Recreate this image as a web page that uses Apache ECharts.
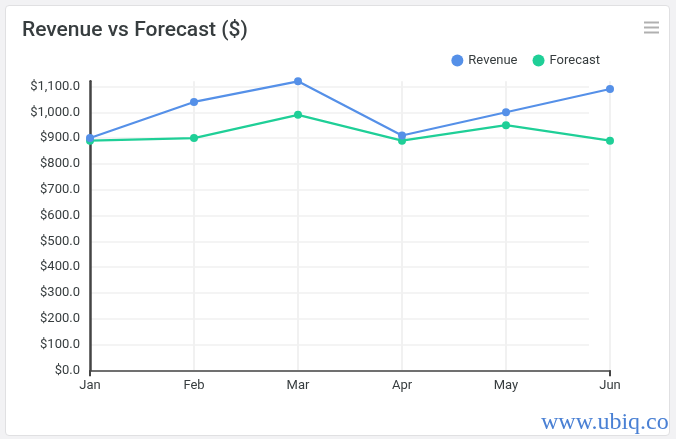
<!DOCTYPE html>
<html><head><meta charset="utf-8">
<script src="https://cdn.jsdelivr.net/npm/echarts@6/dist/echarts.min.js"></script>
<style>
html,body{margin:0;padding:0;background:#f2f2f4;}
#card{position:absolute;left:5px;top:5px;width:663px;height:429px;background:#fff;border:1px solid #e0e0e2;border-radius:4px;}
#chart{position:absolute;left:0;top:0;width:676px;height:439px;}
</style></head>
<body>
<div id="card"></div>
<div id="chart"></div>
<script>
const categories = ['Jan','Feb','Mar','Apr','May','Jun'];
const revenue = [900, 1040, 1120, 910, 1000, 1090];
const forecast = [890, 900, 990, 890, 950, 890];
const yTicks = [0, 100, 200, 300, 400, 500, 600, 700, 800, 900, 1000, 1100];
const yMaxShown = 1120;

const chart = echarts.init(document.getElementById('chart'), null, {renderer:'canvas'});
const fmt = v => '$' + v.toLocaleString('en-US', {minimumFractionDigits:1, maximumFractionDigits:1});
const labelColor = '#373d3f';
chart.setOption({
  animation:false,
  textStyle:{fontFamily:'Roboto'},
  title:{text:'Revenue vs Forecast ($)', left:17, top:15,
    textStyle:{fontFamily:'Roboto', fontSize:21, fontWeight:500, color:'#373d3f'}},
  legend:{data:['Revenue','Forecast'], right:71, top:49, icon:'circle', itemWidth:12, itemHeight:12, itemGap:15,
    textStyle:{fontFamily:'Roboto', fontSize:13, color:labelColor}},
  grid:[
    {left:90, right:66, top:81.3, bottom:68.7},
    {left:90, width:499, top:86.5, bottom:68.7}
  ],
  xAxis:[
    {type:'category', data:categories, boundaryGap:false, gridIndex:0,
      axisLine:{lineStyle:{color:'#444', width:1.5}},
      axisTick:{show:true, length:6, interval:(i)=> i===0 || i===categories.length-1, lineStyle:{color:'#444', width:2}},
      axisLabel:{color:labelColor, fontSize:13, margin:9, fontFamily:'Roboto'},
      splitLine:{show:true, lineStyle:{color:'#f1f1f1', width:2}}},
    {type:'category', data:categories, boundaryGap:false, gridIndex:1, show:false}
  ],
  yAxis:[
    {type:'value', gridIndex:0, min:yTicks[0], max:yMaxShown, interval:yTicks[1]-yTicks[0],
      axisLine:{show:true, lineStyle:{color:'#444', width:2.5}},
      axisTick:{show:false},
      splitLine:{show:false},
      axisLabel:{formatter:fmt, color:labelColor, fontSize:13, margin:10, showMaxLabel:false, fontFamily:'Roboto'}},
    {type:'value', gridIndex:1, min:yTicks[0], max:yTicks[yTicks.length-1], interval:yTicks[1]-yTicks[0],
      axisLine:{show:false}, axisTick:{show:false}, axisLabel:{show:false},
      splitLine:{show:true, lineStyle:{color:'#f1f1f1', width:1.5}}}
  ],
  series:[
    {name:'Revenue', type:'line', data:revenue, xAxisIndex:0, yAxisIndex:0, symbol:'circle', symbolSize:8,
      itemStyle:{color:'#5590e8'}, lineStyle:{width:2.2, color:'#5590e8'}, z:3},
    {name:'Forecast', type:'line', data:forecast, xAxisIndex:0, yAxisIndex:0, symbol:'circle', symbolSize:8,
      itemStyle:{color:'#1fcf97'}, lineStyle:{width:2.2, color:'#1fcf97'}, z:2}
  ],
  graphic:[
    {type:'rect', shape:{x:644, y:21.5, width:15, height:2}, style:{fill:'#b0b0b0'}},
    {type:'rect', shape:{x:644, y:26.5, width:15, height:2}, style:{fill:'#b0b0b0'}},
    {type:'rect', shape:{x:644, y:31.5, width:15, height:2}, style:{fill:'#b0b0b0'}},
    {type:'text', left:541, top:411, style:{text:'www.ubiq.co', font:'24px "Liberation Serif", serif', fill:'#4a80d4'}}
  ]
});
</script>
</body></html>
